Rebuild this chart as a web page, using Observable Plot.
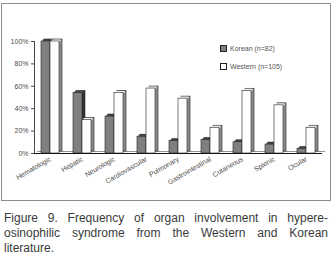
<!DOCTYPE html>
<html>
<head>
<meta charset="utf-8">
<script src="https://cdn.jsdelivr.net/npm/d3@7"></script>
<script src="https://cdn.jsdelivr.net/npm/@observablehq/plot@0.6"></script>
<style>
  body { margin: 0; background: #fff; }
  #wrap { position: relative; width: 332px; height: 261px; overflow: hidden; }
  #frame { position: absolute; left: 1px; top: 3px; border: 1px solid #8c8c8c; line-height: 0; }
  .legend { position: absolute; left: 220px; font: 7px "Liberation Sans", Arial, sans-serif; color: #555; }
  .legend .row { position: absolute; white-space: nowrap; display: flex; align-items: center; }
  .legend .sw { width: 5px; height: 5px; border: 1px solid #222; margin-right: 3px; }
  #caption { position: absolute; left: 4px; top: 211px; width: 324px;
    font: 12px "Liberation Sans Narrow", "Liberation Sans", Arial, sans-serif; line-height: 15px; color: #3a3a3a; }
  #caption .j { text-align: justify; text-align-last: justify; }
</style>
</head>
<body>
<div id="wrap">
  <div id="frame"></div>
  <div class="legend" id="legend"></div>
  <div id="caption">
    <div class="j">Figure 9. Frequency of organ involvement in hypere-</div>
    <div class="j">osinophilic syndrome from the Western and Korean</div>
    <div>literature.</div>
  </div>
</div>
<script>
// Organ systems involved in hypereosinophilic syndrome (percent of patients)
const organs = ["Hematologic", "Hepatic", "Neurologic", "Cardiovascular", "Pulmonary",
                "Gastrointestinal", "Cutaneous", "Splenic", "Ocular"];
const korean = [100, 54, 33, 15, 11, 12, 10, 8, 4];
const western = [100, 30, 54, 58, 49, 23, 56, 43, 23];
const series = ["Korean (n=82)", "Western (n=105)"];
const yTicks = [0, 20, 40, 60, 80, 100];

// Face colours of the pseudo-3D columns: front, top, side
const faceColors = ["#808080", "#ffffff"];
const topColors = ["#4a4a4a", "#f2f2f2"];
const sideColors = ["#333333", "#8c8c8c"];

const rows = organs.flatMap((organ, i) => [
  {organ, series: series[0], value: korean[i]},
  {organ, series: series[1], value: western[i]}
]);
const bySeries = series.map(s => rows.filter(d => d.series === s));

const enc = {fx: "organ", x: "series", y: "value"};

const chart = Plot.plot({
  width: 328,
  height: 196,
  marginLeft: 29,
  marginRight: 5,
  marginTop: 37,
  marginBottom: 47,
  style: {fontFamily: "'Liberation Sans', Arial, sans-serif", fontSize: "7px", color: "#4a4a4a", background: "#fff", overflow: "visible"},
  fx: {domain: organs, padding: 0, label: null, tickRotate: -30, tickSize: 0, tickPadding: 5},
  x: {domain: series, axis: null, paddingInner: 0, paddingOuter: 0.63},
  y: {domain: [0, 100], ticks: yTicks, tickFormat: d => d + "%", tickSize: 3, tickPadding: 3, line: true, label: null},
  marks: [
    // floor of the plot
    Plot.ruleY([0], {dx: 3, dy: -2, stroke: "#777", strokeWidth: 0.8}),
    Plot.ruleY([0], {stroke: "#111", strokeWidth: 1}),
    // side faces
    ...bySeries.map((data, k) => Plot.barY(data, {...enc, dx: 3, dy: -2, fill: sideColors[k], stroke: "#222", strokeWidth: 0.6})),
    // top faces
    ...bySeries.map((data, k) => Plot.tickY(data, {...enc, dx: 1.5, dy: -1, stroke: topColors[k], strokeWidth: 2})),
    // front faces
    ...bySeries.map((data, k) => Plot.barY(data, {...enc, fill: faceColors[k], stroke: "#222", strokeWidth: 0.6}))
  ]
});
document.getElementById("frame").appendChild(chart);

// Legend
const legend = document.getElementById("legend");
series.forEach((s, k) => {
  const row = document.createElement("div");
  row.className = "row";
  row.style.top = (k === 0 ? 45 : 63) + "px";
  const sw = document.createElement("span");
  sw.className = "sw";
  sw.style.background = faceColors[k];
  const label = document.createElement("span");
  label.textContent = s;
  row.append(sw, label);
  legend.appendChild(row);
});
</script>
</body>
</html>
